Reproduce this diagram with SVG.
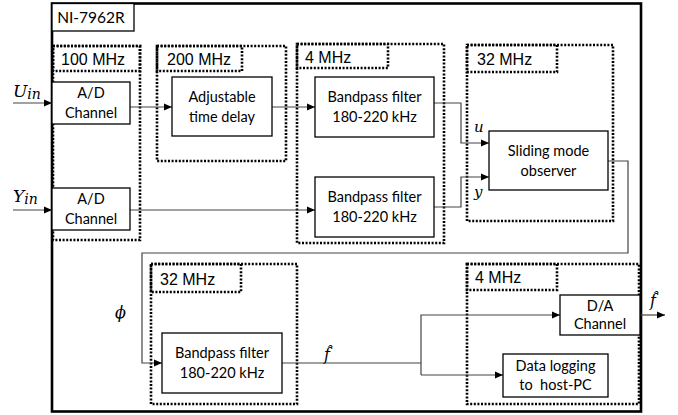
<svg xmlns="http://www.w3.org/2000/svg" width="678" height="415" viewBox="0 0 678 415">
<defs>
<marker id="arr" markerUnits="userSpaceOnUse" markerWidth="9" markerHeight="8" refX="8" refY="4" orient="auto">
<path d="M0,0.5 L8,4 L0,7.5 z" fill="#000"/>
</marker>
<style>
.box{fill:#fff;stroke:#000;stroke-width:1.3}
.dot{fill:none;stroke:#000;stroke-width:2.6;stroke-dasharray:2 1.6}
.lab{font-family:"Liberation Sans",Arial,sans-serif;font-size:16px;fill:#000}
.t{font-family:Lato,"Liberation Sans",sans-serif;font-size:14.5px;fill:#000;text-anchor:middle;white-space:pre}
.m{font-family:"DejaVu Serif","Liberation Serif",serif;font-style:italic;fill:#000}
.c{fill:none;stroke:#444;stroke-width:1.2}
</style>
</defs>
<rect width="678" height="415" fill="#fff"/>
<g id="board">
<rect x="52" y="3.5" width="589" height="408" fill="none" stroke="#000" stroke-width="2.6"/>
<rect class="box" x="52" y="3.5" width="82" height="27.5"/>
<text x="91" y="23" class="t" style="font-size:15.5px">NI-7962R</text>
</g>
<g id="clock100">
<rect class="dot" x="53" y="46" width="87" height="194"/>
<rect class="dot" x="53" y="46" width="87" height="25"/>
<text x="61" y="65" class="lab">100 MHz</text>
</g>
<g id="clock200">
<rect class="dot" x="157" y="46" width="129" height="115"/>
<rect class="dot" x="157" y="46" width="85" height="25"/>
<text x="167" y="65" class="lab">200 MHz</text>
</g>
<g id="clock4a">
<rect class="dot" x="297" y="44" width="147" height="199"/>
<rect class="dot" x="297" y="44" width="91" height="24"/>
<text x="305" y="63" class="lab">4 MHz</text>
</g>
<g id="clock32a">
<rect class="dot" x="467" y="45" width="146" height="176"/>
<rect class="dot" x="467" y="45" width="90" height="27"/>
<text x="477" y="65" class="lab">32 MHz</text>
</g>
<g id="clock32b">
<rect class="dot" x="151" y="264" width="146" height="140"/>
<rect class="dot" x="151" y="264" width="90" height="28"/>
<text x="160" y="285" class="lab">32 MHz</text>
</g>
<g id="clock4b">
<rect class="dot" x="467" y="264" width="172" height="140"/>
<rect class="dot" x="467" y="264" width="90" height="26"/>
<text x="475" y="283" class="lab">4 MHz</text>
</g>
<g id="connectors">
<path class="c" d="M13,103 H52" marker-end="url(#arr)"/>
<path class="c" d="M13,210 H52" marker-end="url(#arr)"/>
<path class="c" d="M130,107 H172" marker-end="url(#arr)"/>
<path class="c" d="M272,107 H315" marker-end="url(#arr)"/>
<path class="c" d="M130,210 H315" marker-end="url(#arr)"/>
<path class="c" d="M434,103 H461 V143 H489" marker-end="url(#arr)"/>
<path class="c" d="M434,207 H461 V177 H489" marker-end="url(#arr)"/>
<path class="c" d="M608,161 H628 V253 H142 V363 H162" marker-end="url(#arr)"/>
<path class="c" d="M282,363 H421"/>
<path class="c" d="M421,375 V315 H560" marker-end="url(#arr)"/>
<path class="c" d="M421,375 H503" marker-end="url(#arr)"/>
<path class="c" d="M640,315 H665" marker-end="url(#arr)"/>
</g>
<g id="ad1">
<rect class="box" x="52" y="82" width="78" height="42"/>
<text x="91" y="98" class="t">A/D</text>
<text x="91" y="118" class="t">Channel</text>
</g>
<g id="ad2">
<rect class="box" x="52" y="188" width="78" height="42"/>
<text x="91" y="204" class="t">A/D</text>
<text x="91" y="224" class="t">Channel</text>
</g>
<g id="delay">
<rect class="box" x="172" y="77" width="100" height="59"/>
<text x="222" y="102" class="t">Adjustable</text>
<text x="222" y="122" class="t">time delay</text>
</g>
<g id="bp1">
<rect class="box" x="315" y="77" width="119" height="60"/>
<text x="374.5" y="102" class="t">Bandpass filter</text>
<text x="374.5" y="122" class="t">180-220 kHz</text>
</g>
<g id="bp2">
<rect class="box" x="315" y="177" width="119" height="60"/>
<text x="374.5" y="202" class="t">Bandpass filter</text>
<text x="374.5" y="222" class="t">180-220 kHz</text>
</g>
<g id="smo">
<rect class="box" x="489" y="131" width="119" height="59"/>
<text x="548.5" y="156" class="t">Sliding mode</text>
<text x="548.5" y="176" class="t">observer</text>
</g>
<g id="bp3">
<rect class="box" x="162" y="333" width="120" height="60"/>
<text x="222" y="358" class="t">Bandpass filter</text>
<text x="222" y="378" class="t">180-220 kHz</text>
</g>
<g id="da">
<rect class="box" x="560" y="295" width="80" height="40"/>
<text x="600" y="311" class="t">D/A</text>
<text x="600" y="329" class="t">Channel</text>
</g>
<g id="log">
<rect class="box" x="503" y="354" width="105" height="43"/>
<text x="555.5" y="371" class="t">Data logging</text>
<text x="555.5" y="390" class="t" xml:space="preserve">to  host-PC</text>
</g>
<g id="labels">
<text x="13" y="97" class="m" style="font-size:17px">U<tspan dy="2" style="font-size:14px">in</tspan></text>
<text x="13" y="202" class="m" style="font-size:17px">Y<tspan dy="2" style="font-size:14px">in</tspan></text>
<text x="474" y="132" class="m" style="font-size:15px">u</text>
<text x="474" y="197" class="m" style="font-size:15px">y</text>
<text x="115" y="318" class="m" style="font-size:16px">ϕ</text>
<text x="324" y="360" class="m" style="font-size:16px">f̂</text>
<text x="650" y="306" class="m" style="font-size:16px">f̂</text>
</g>
</svg>
